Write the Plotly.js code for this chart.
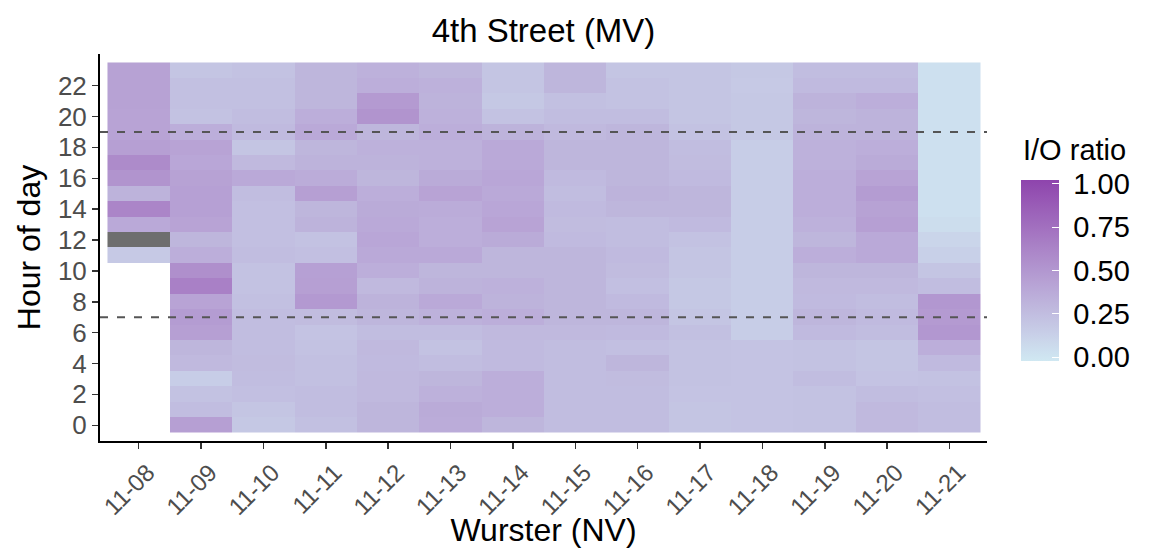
<!DOCTYPE html>
<html><head><meta charset="utf-8">
<script src="https://cdn.plot.ly/plotly-3.0.1.min.js"></script>
<style>html,body{margin:0;padding:0;background:#fff}#chart{width:1153px;height:548px}</style>
</head><body><div id="chart"></div>
<script>
// ---- data ----
const dates = ["11-08","11-09","11-10","11-11","11-12","11-13","11-14","11-15","11-16","11-17","11-18","11-19","11-20","11-21"];
const hours = [0,1,2,3,4,5,6,7,8,9,10,11,12,13,14,15,16,17,18,19,20,21,22,23];
const hourTicks = [0,2,4,6,8,10,12,14,16,18,20,22];
// I/O ratio per day, hour 0 -> 23 (null = no data)
const ratio_1108 = [null,null,null,null,null,null,null,null,null,null,null,0.17,null,0.38,0.62,0.32,0.52,0.58,0.45,0.42,0.42,0.43,0.43,0.43];
const ratio_1109 = [0.45,0.25,0.22,0.15,0.28,0.30,0.45,0.47,0.42,0.65,0.55,0.35,0.30,0.42,0.44,0.44,0.43,0.40,0.42,0.35,0.22,0.23,0.23,0.20];
const ratio_1110 = [0.18,0.20,0.24,0.25,0.26,0.25,0.25,0.25,0.23,0.22,0.22,0.25,0.24,0.24,0.24,0.25,0.38,0.28,0.20,0.27,0.25,0.23,0.23,0.22];
const ratio_1111 = [0.23,0.25,0.25,0.23,0.23,0.22,0.21,0.26,0.49,0.45,0.44,0.24,0.22,0.32,0.30,0.45,0.36,0.32,0.30,0.38,0.35,0.30,0.30,0.30];
const ratio_1112 = [0.30,0.30,0.28,0.28,0.27,0.28,0.25,0.30,0.32,0.28,0.35,0.38,0.40,0.38,0.37,0.35,0.30,0.32,0.33,0.30,0.52,0.48,0.35,0.33];
const ratio_1113 = [0.36,0.37,0.33,0.30,0.25,0.22,0.25,0.33,0.38,0.32,0.30,0.38,0.35,0.35,0.36,0.42,0.37,0.33,0.33,0.35,0.33,0.32,0.33,0.30];
const ratio_1114 = [0.30,0.35,0.35,0.35,0.27,0.27,0.28,0.35,0.32,0.33,0.30,0.30,0.37,0.42,0.40,0.38,0.40,0.38,0.38,0.32,0.22,0.18,0.20,0.20];
const ratio_1115 = [0.25,0.25,0.25,0.25,0.25,0.25,0.28,0.30,0.30,0.30,0.30,0.30,0.27,0.26,0.27,0.25,0.27,0.30,0.30,0.28,0.25,0.23,0.30,0.30];
const ratio_1116 = [0.25,0.25,0.25,0.26,0.30,0.24,0.27,0.30,0.27,0.24,0.26,0.27,0.25,0.25,0.30,0.32,0.30,0.30,0.30,0.30,0.25,0.22,0.22,0.20];
const ratio_1117 = [0.20,0.20,0.21,0.22,0.22,0.22,0.23,0.20,0.18,0.18,0.20,0.20,0.22,0.27,0.30,0.30,0.27,0.26,0.25,0.22,0.20,0.20,0.20,0.20];
const ratio_1118 = [0.21,0.21,0.21,0.21,0.21,0.21,0.15,0.15,0.15,0.15,0.15,0.15,0.15,0.15,0.15,0.15,0.15,0.15,0.15,0.18,0.18,0.18,0.17,0.18];
const ratio_1119 = [0.22,0.22,0.22,0.25,0.22,0.22,0.27,0.30,0.27,0.28,0.30,0.35,0.30,0.33,0.35,0.35,0.35,0.33,0.33,0.32,0.30,0.32,0.27,0.25];
const ratio_1120 = [0.28,0.28,0.25,0.21,0.20,0.20,0.25,0.27,0.25,0.28,0.30,0.38,0.38,0.45,0.43,0.47,0.42,0.37,0.35,0.32,0.32,0.35,0.27,0.25];
const ratio_1121 = [0.25,0.25,0.24,0.22,0.27,0.35,0.50,0.48,0.50,0.25,0.20,0.13,0.10,0.05,0.03,0.03,0.03,0.03,0.03,0.03,0.03,0.03,0.03,0.03];
const dayColumns = [ratio_1108,ratio_1109,ratio_1110,ratio_1111,ratio_1112,ratio_1113,ratio_1114,ratio_1115,ratio_1116,ratio_1117,ratio_1118,ratio_1119,ratio_1120,ratio_1121];
// cells present but with NA ratio (drawn grey)
const naDates = ["11-08"];
const naHours = [12];
// reference hours (dashed lines)
const refHours = [7, 19];
const legendTitle = "I/O ratio";
const legendTicks = [0, 0.25, 0.5, 0.75, 1];
const legendTickText = ["0.00","0.25","0.50","0.75","1.00"];
const scaleMin = -0.023, scaleMax = 1.023;

// ---- colour scale (Lab interpolation like ggplot2) ----
const LOW = "#D0E8F2", HIGH = "#8E44AD";
function hex2rgb(h){return [1,3,5].map(i=>parseInt(h.substr(i,2),16));}
function s2l(c){c/=255;return c<=0.04045?c/12.92:Math.pow((c+0.055)/1.055,2.4);}
function l2s(c){c=c<=0.0031308?12.92*c:1.055*Math.pow(c,1/2.4)-0.055;return Math.round(Math.max(0,Math.min(1,c))*255);}
function rgb2lab(rgb){const [r,g,b]=rgb.map(s2l);
 let x=(0.4124*r+0.3576*g+0.1805*b)/0.95047,y=(0.2126*r+0.7152*g+0.0722*b),z=(0.0193*r+0.1192*g+0.9505*b)/1.08883;
 const f=t=>t>0.008856?Math.cbrt(t):7.787*t+16/116;
 const fx=f(x),fy=f(y),fz=f(z);return [116*fy-16,500*(fx-fy),200*(fy-fz)];}
function lab2rgb(lab){const fy=(lab[0]+16)/116,fx=fy+lab[1]/500,fz=fy-lab[2]/200;
 const fi=t=>t*t*t>0.008856?t*t*t:(t-16/116)/7.787;
 const x=fi(fx)*0.95047,y=fi(fy),z=fi(fz)*1.08883;
 const r=3.2406*x-1.5372*y-0.4986*z,g=-0.9689*x+1.8758*y+0.0415*z,b=0.0557*x-0.2040*y+1.0570*z;
 return 'rgb('+l2s(r)+','+l2s(g)+','+l2s(b)+')';}
const labLo=rgb2lab(hex2rgb(LOW)),labHi=rgb2lab(hex2rgb(HIGH));
const colorscale=[];
for(let i=0;i<=20;i++){const t=i/20;colorscale.push([t,lab2rgb(labLo.map((v,k)=>v+(labHi[k]-v)*t))]);}

// ---- build matrix ----
const z = hours.map((h,hi)=>dayColumns.map(col=>col[hi]));
const zNA = hours.map(h=>dates.map(d=>{for(let k=0;k<naDates.length;k++){if(naDates[k]===d&&naHours[k]===h)return 1;}return null;}));

const FONT="Liberation Sans, Arial, Helvetica, sans-serif";
const traces=[
 {type:'heatmap',x:dates,y:hours,z:z,zmin:scaleMin,zmax:scaleMax,colorscale:colorscale,hoverongaps:false,
  colorbar:{tickvals:legendTicks,ticktext:legendTickText.map(t=>'\u00a0'+t),tickfont:{family:FONT,size:29,color:'#000'},
   ticks:'inside',ticklen:7,tickcolor:'#fff',tickwidth:1,
   thickness:38,lenmode:'pixels',len:181,x:1.0383,xanchor:'left',y:0.4406,yanchor:'middle',
   xpad:0,ypad:0,outlinewidth:0}},
 {type:'heatmap',x:dates,y:hours,z:zNA,zmin:0,zmax:1,colorscale:[[0,'#6e6e6e'],[1,'#6e6e6e']],showscale:false,hoverongaps:false}
];
const shapes=refHours.map(h=>({type:'line',xref:'paper',x0:0,x1:1,yref:'y',y0:h,y1:h,line:{color:'#555',width:2,dash:'8px,9px'}}));
const layout={
 width:1153,height:548,paper_bgcolor:'#fff',plot_bgcolor:'#fff',
 margin:{l:100,r:166,t:54,b:107,pad:0},
 font:{family:FONT},
 title:{text:'4th Street (MV)',font:{family:FONT,size:33,color:'#000'},x:0.5,xref:'paper',xanchor:'center',y:1-30/548,yref:'container',yanchor:'middle'},
 xaxis:{type:'category',range:[-0.62,13.6],showline:true,linecolor:'#000',linewidth:2,ticks:'outside',ticklen:6,tickwidth:1.5,tickcolor:'#333',
  tickangle:-45,tickfont:{family:FONT,size:24,color:'#4d4d4d'},ticklabelshift:9,showgrid:false,zeroline:false,
  title:{text:'Wurster (NV)',font:{family:FONT,size:32,color:'#000'},standoff:0}},
 yaxis:{range:[-1.02,24.05],tickvals:hourTicks,showline:true,linecolor:'#000',linewidth:2,ticks:'outside',ticklen:6,tickwidth:1.5,tickcolor:'#333',
  tickfont:{family:FONT,size:26,color:'#4d4d4d'},showgrid:false,zeroline:false,
  title:{text:'Hour of day',font:{family:FONT,size:32,color:'#000'},standoff:8}},
 annotations:[{text:legendTitle,xref:'paper',yref:'paper',x:(1021-100)/887,y:(441-150)/387,xanchor:'left',yanchor:'middle',showarrow:false,
  font:{family:FONT,size:29,color:'#000'}}],
 shapes:shapes
};
Plotly.newPlot('chart',traces,layout,{displayModeBar:false,staticPlot:true});
</script></body></html>
